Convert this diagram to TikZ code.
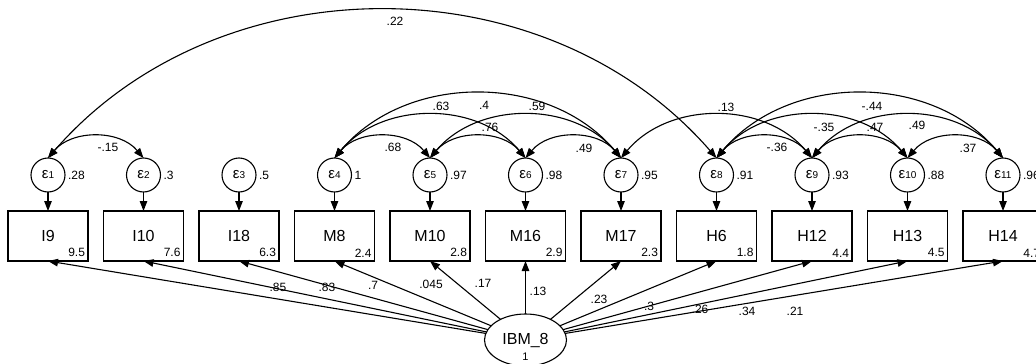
\documentclass[tikz,border=0pt]{standalone}
\usepackage{fontspec}
\setmainfont{Liberation Sans}
\usetikzlibrary{arrows.meta,shapes.geometric}
\newcommand\boxfont{\fontsize{16}{16}\selectfont}
\newcommand\numfont{\fontsize{12}{12}\selectfont}
\newcommand\epsfont{\fontsize{15}{15}\selectfont}
\newcommand\subfont{\fontsize{10}{10}\selectfont}
\newcommand\tinyfont{\fontsize{11}{11}\selectfont}
\begin{document}
\begin{tikzpicture}[x=1pt,y=-1pt,
  every node/.style={inner sep=0pt,outer sep=0pt},
  err/.style={circle,draw,line width=1.1pt,minimum size=34pt},
  obs/.style={rectangle,draw,line width=1.1pt,minimum width=80pt,minimum height=50pt,font=\boxfont},
  lat/.style={ellipse,draw,line width=1.1pt,minimum width=82pt,minimum height=52pt,font=\boxfont},
  num/.style={font=\numfont},
  pathto/.style={line width=1.1pt,-{Triangle[length=10pt,width=7.5pt]}},
  cov/.style={line width=1.1pt,{Triangle[length=10pt,width=7.5pt]}-{Triangle[length=10pt,width=7.5pt]}},
]
\useasboundingbox (0,0) rectangle (1036,364);
\clip (0,0) rectangle (1036,364);

% error terms, indicators and their labels
\foreach \i/\x/\name/\mean/\var in {
  1/48/I9/9.5/.28, 2/143.5/I10/7.6/.3, 3/239/I18/6.3/.5, 4/334.5/M8/2.4/1,
  5/430/M10/2.8/.97, 6/525.5/M16/2.9/.98, 7/621/M17/2.3/.95, 8/716.5/H6/1.8/.91,
  9/812/H12/4.4/.93, 10/907.5/H13/4.5/.88, 11/1003/H14/4.7/.96}{
  \node[err] (e\i) at (\x,175) {{\epsfont ε}{\subfont\i}};
  \node[num,anchor=west,xshift=3pt] (v\i) at (e\i.east) {\var};
  \node[obs] (b\i) at (\x,236) {\name};
  \node[num,anchor=south east,xshift=-3pt,yshift=4pt] (m\i) at (b\i.south east) {\mean};
  \draw[pathto] (e\i) -- (b\i);
}

% latent variable
\node[lat] (ibm) at (525.5,340) {IBM\_8};
\node[font=\tinyfont] (ibmvar) at (525.5,356.5) {1};

% loadings
\foreach \i in {1,...,11}{
  \draw[pathto] (ibm) -- (b\i.south);
}
\foreach \i/\x/\y/\t in {
  1/278/287/.85, 2/327/287/.83, 3/373/285/.7, 4/431/284/.045, 5/483/283/.17,
  6/538/291/.13, 7/599/299/.23, 8/649/306/.3, 9/700/309/.26, 10/747/311/.34,
  11/795/311/.21}{
  \node[num] (l\i) at (\x,\y) {\t};
}

% error covariances
\draw[cov] (e1.north) to[out=49,in=131] (e8.north);
\draw[cov] (e1.north) to[out=50,in=130] (e2.north);
\draw[cov] (e4.north) to[out=50,in=130] (e5.north);
\draw[cov] (e4.north) to[out=50,in=130] (e6.north);
\draw[cov] (e4.north) to[out=50,in=130] (e7.north);
\draw[cov] (e5.north) to[out=50,in=130] (e6.north);
\draw[cov] (e5.north) to[out=50,in=130] (e7.north);
\draw[cov] (e6.north) to[out=50,in=130] (e7.north);
\draw[cov] (e7.north) to[out=50,in=130] (e9.north);
\draw[cov] (e8.north) to[out=50,in=130] (e9.north);
\draw[cov] (e8.north) to[out=50,in=130] (e10.north);
\draw[cov] (e8.north) to[out=50,in=130] (e11.north);
\draw[cov] (e9.north) to[out=50,in=130] (e10.north);
\draw[cov] (e9.north) to[out=50,in=130] (e11.north);
\draw[cov] (e10.north) to[out=50,in=130] (e11.north);

\foreach \n/\x/\y/\t in {
  c18/395/21/.22, c12/108/147/-.15, c45/393/147/.68, c46/441/106/.63,
  c47/484/105/.4, c56/490/127/.76, c57/537/106/.59, c67/584/148/.49,
  c79/726/107/.13, c89/777/147/-.36, c810/824/127/-.35, c910/875/127/.47,
  c811/872/106/-.44, c911/917/125/.49, c1011/968/148/.37}{
  \node[num] (\n) at (\x,\y) {\t};
}
\end{tikzpicture}
\end{document}
